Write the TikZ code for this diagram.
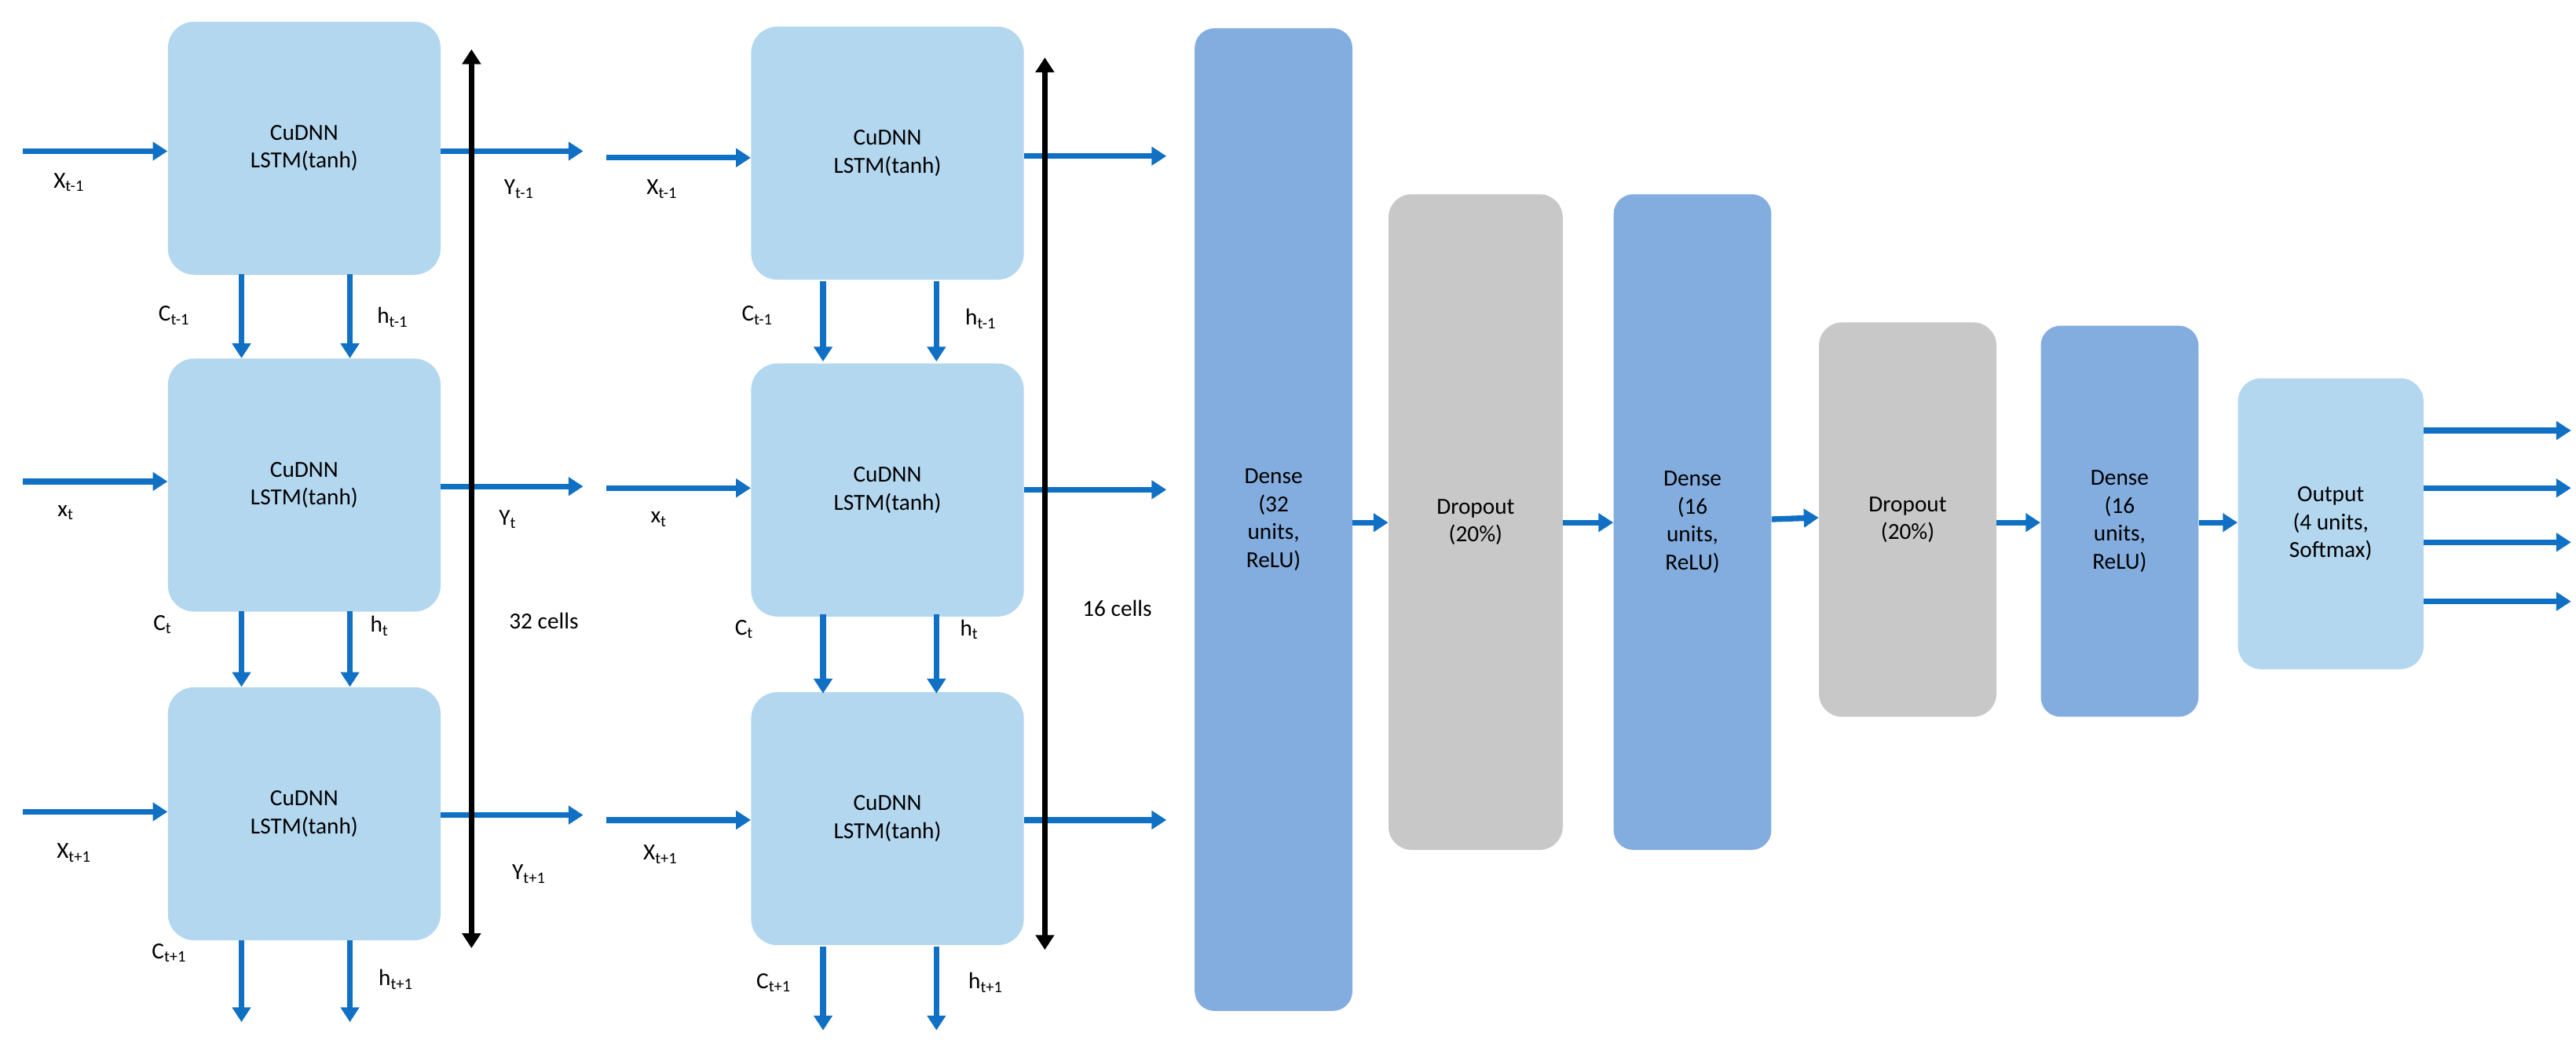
\documentclass[tikz,border=0pt]{standalone}
\usepackage{fontspec}
\setmainfont{Carlito}
\usetikzlibrary{arrows.meta}
\definecolor{lb}{HTML}{B4D7F0}
\definecolor{db}{HTML}{83ADDF}
\definecolor{gr}{HTML}{C8C8C8}
\definecolor{ab}{HTML}{1070C4}
\begin{document}
\begin{tikzpicture}[x=1pt,y=-1pt,
 box/.style={draw=none,rounded corners=16pt,inner sep=0pt,align=center,font=\fontsize{14}{17}\selectfont},
 ar/.style={draw=ab,line width=3.5pt,-{Triangle[length=9pt,width=11pt]}},
 bk/.style={draw=black,line width=3.5pt,{Triangle[length=9pt,width=11pt]}-{Triangle[length=9pt,width=11pt]}},
 lab/.style={font=\fontsize{14}{17}\selectfont}]
\useasboundingbox (0,0) rectangle (1568,635);
\def\sub#1{\textsubscript{#1}}
% column 1
\foreach \n/\y/\xi/\yo/\cx/\hx in {a/13/X\sub{t-1}/Y\sub{t-1}/C\sub{t-1}/h\sub{t-1},b/218/x\sub{t}/Y\sub{t}/C\sub{t}/h\sub{t},c/418/X\sub{t+1}/Y\sub{t+1}/C\sub{t+1}/h\sub{t+1}}{
 \node[box,fill=lb,minimum width=166pt,minimum height=154pt,anchor=north west] (L\n) at (102,\y) {CuDNN\\LSTM(tanh)};
}
\foreach \n/\y in {a/13,b/218,c/418}{
 \node[box,fill=lb,minimum width=166pt,minimum height=154pt,anchor=north west] (M\n) at (457,\y+3) {CuDNN\\LSTM(tanh)};
}
% inputs/outputs col 1
\coordinate (i1) at (14,92); \coordinate (i2) at (14,293); \coordinate (i3) at (14,494);
\draw[ar] (i1) -- (i1-|La.west); \draw[ar] (i2) -- (i2-|Lb.west); \draw[ar] (i3) -- (i3-|Lc.west);
\coordinate (o1) at (355,92); \coordinate (o2) at (355,296); \coordinate (o3) at (355,496);
\draw[ar] (o1-|La.east) -- (o1); \draw[ar] (o2-|Lb.east) -- (o2); \draw[ar] (o3-|Lc.east) -- (o3);
\node[lab] (t1) at (42,111) {X\sub{t-1}}; \node[lab] (t2) at (40,312) {x\sub{t}}; \node[lab] (t3) at (45,519) {X\sub{t+1}};
\node[lab] (u1) at (316,115) {Y\sub{t-1}}; \node[lab] (u2) at (309,316) {Y\sub{t}}; \node[lab] (u3) at (322,532) {Y\sub{t+1}};
% C/h arrows col1
\coordinate (c3) at (147,622); \coordinate (h3) at (213,622);
\draw[ar] (147,167) -- (147,218); \draw[ar] (213,167) -- (213,218);
\draw[ar] (147,372) -- (147,418); \draw[ar] (213,372) -- (213,418);
\draw[ar] (147,572) -- (c3); \draw[ar] (213,572) -- (h3);
\node[lab] (k1) at (106,192) {C\sub{t-1}}; \node[lab] (k2) at (239,193) {h\sub{t-1}};
\node[lab] (k3) at (99,380) {C\sub{t}}; \node[lab] (k4) at (231,381) {h\sub{t}};
\node[lab] (k5) at (103,580) {C\sub{t+1}}; \node[lab] (k6) at (241,596) {h\sub{t+1}};
\draw[bk] (287,30) -- (287,577);
\node[lab] (n32) at (331,378) {32 cells};
% column 2
\coordinate (j1) at (369,96); \coordinate (j2) at (369,297); \coordinate (j3) at (369,499);
\draw[ar] (j1) -- (j1-|Ma.west); \draw[ar] (j2) -- (j2-|Mb.west); \draw[ar] (j3) -- (j3-|Mc.west);
\coordinate (p1) at (710,95); \coordinate (p2) at (710,298); \coordinate (p3) at (710,499);
\draw[ar] (p1-|Ma.east) -- (p1); \draw[ar] (p2-|Mb.east) -- (p2); \draw[ar] (p3-|Mc.east) -- (p3);
\node[lab] (s1) at (403,115) {X\sub{t-1}}; \node[lab] (s2) at (401,316) {x\sub{t}}; \node[lab] (s3) at (402,520) {X\sub{t+1}};
\coordinate (d3) at (501,627); \coordinate (e3) at (570,627);
\draw[ar] (501,171) -- (501,220); \draw[ar] (570,171) -- (570,220);
\draw[ar] (501,374) -- (501,422); \draw[ar] (570,374) -- (570,422);
\draw[ar] (501,576) -- (d3); \draw[ar] (570,576) -- (e3);
\node[lab] (q1) at (461,192) {C\sub{t-1}}; \node[lab] (q2) at (597,194) {h\sub{t-1}};
\node[lab] (q3) at (453,383) {C\sub{t}}; \node[lab] (q4) at (590,383) {h\sub{t}};
\node[lab] (q5) at (471,598) {C\sub{t+1}}; \node[lab] (q6) at (600,598) {h\sub{t+1}};
\draw[bk] (636,35) -- (636,578);
\node[lab] (n16) at (680,370) {16 cells};
% dense stack
\node[box,fill=db,minimum width=96pt,minimum height=598pt,anchor=north west,rounded corners=12pt] (D1) at (727,17) {Dense\\(32\\units,\\ReLU)};
\node[box,fill=gr,minimum width=106pt,minimum height=399pt,anchor=north west,rounded corners=14pt] (P1) at (845,118) {Dropout\\(20\%)};
\node[box,fill=db,minimum width=96pt,minimum height=399pt,anchor=north west,rounded corners=12pt] (D2) at (982,118) {Dense\\(16\\units,\\ReLU)};
\node[box,fill=gr,minimum width=108pt,minimum height=240pt,anchor=north west,rounded corners=14pt] (P2) at (1107,196) {Dropout\\(20\%)};
\node[box,fill=db,minimum width=96pt,minimum height=238pt,anchor=north west,rounded corners=12pt] (D3) at (1242,198) {Dense\\(16\\units,\\ReLU)};
\node[box,fill=lb,minimum width=113pt,minimum height=177pt,anchor=north west,rounded corners=14pt] (O) at (1362,230) {Output\\(4 units,\\Softmax)};
\draw[ar] (D1.east|-0,318) -- (P1.west|-0,318);
\draw[ar] (P1.east|-0,318) -- (D2.west|-0,318);
\draw[ar] (D2.east|-0,316) -- (P2.west|-0,315);
\draw[ar] (P2.east|-0,318) -- (D3.west|-0,318);
\draw[ar] (D3.east|-0,318) -- (O.west|-0,318);
\foreach \y [count=\i] in {262,297,330,366}{
 \coordinate (r\i) at (1565,\y);
 \draw[ar] (O.east|-r\i) -- (r\i);
}
\end{tikzpicture}
\end{document}
